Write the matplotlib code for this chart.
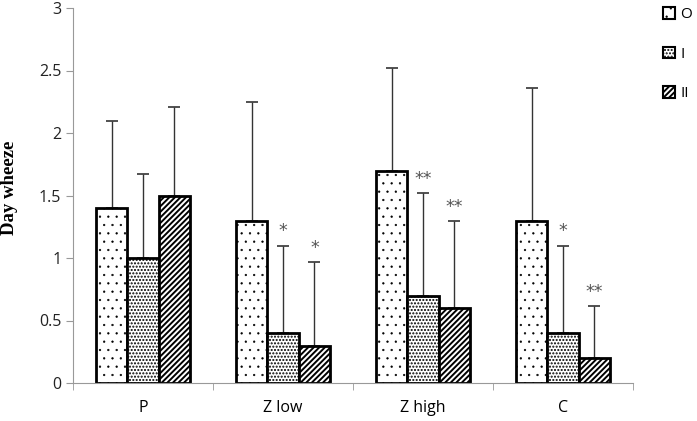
import matplotlib
matplotlib.use("Agg")
import matplotlib.pyplot as plt
import numpy as np
from matplotlib.patches import Patch

categories = ["P", "Z low", "Z high", "C"]
series_names = ["O", "I", "II"]
values_O = [1.4, 1.3, 1.7, 1.3]
values_I = [1.0, 0.4, 0.7, 0.4]
values_II = [1.5, 0.3, 0.6, 0.2]
err_O = [0.70, 0.95, 0.82, 1.06]
err_I = [0.67, 0.70, 0.82, 0.70]
err_II = [0.71, 0.67, 0.70, 0.42]
stars_I = ["", "*", "**", "*"]
stars_II = ["", "*", "**", "**"]
y_ticks = [0, 0.5, 1, 1.5, 2, 2.5, 3]
y_tick_labels = ["0", "0.5", "1", "1.5", "2", "2.5", "3"]

fig = plt.figure(figsize=(6.97, 4.21), dpi=100)
ax = fig.add_axes([73/697, 38/421, (633-73)/697, 375/421])

x = np.arange(len(categories))
w = 0.224
hatches = ['..', '.....', '//////']
hatch_lw = [0.4, 1.0, 1.4]
vals = [values_O, values_I, values_II]
errs = [err_O, err_I, err_II]
for i, (v, e, h) in enumerate(zip(vals, errs, hatches)):
    pos = x + (i - 1) * w
    bars = ax.bar(pos, v, width=w, color='white', edgecolor='black', linewidth=2.0,
                  hatch=h, zorder=2)
    for b in bars:
        if hasattr(b, 'set_hatch_linewidth'):
            b.set_hatch_linewidth(hatch_lw[i])
    ax.errorbar(pos, v, yerr=[np.zeros(len(v)), e], fmt='none', ecolor='#333333',
                elinewidth=1.0, capsize=4.5, capthick=1.2, zorder=1)

for j in range(len(categories)):
    for i, st in ((1, stars_I), (2, stars_II)):
        if st[j]:
            top = vals[i][j] + errs[i][j]
            ax.text(x[j] + (i - 1) * w, top + 0.04, st[j], ha='center', va='bottom',
                    fontsize=12.5, color='#555555', family='DejaVu Sans')

ax.set_xlim(-0.5, 3.5)
ax.set_ylim(0, 3)
ax.set_yticks(y_ticks)
ax.set_yticklabels(y_tick_labels)
ax.set_xticks(x)
ax.set_xticklabels(categories)
ax.set_xticks(np.arange(-0.5, 4, 1), minor=True)
ax.tick_params(axis='x', which='major', length=0, pad=12, labelsize=11.5)
ax.tick_params(axis='x', which='minor', length=5, color='#999999', direction='out')
ax.tick_params(axis='y', length=5, color='#999999', labelsize=11.5, labelcolor='#222222')
for lab in ax.get_xticklabels() + ax.get_yticklabels():
    lab.set_family('Open Sans')
for s in ['top', 'right']:
    ax.spines[s].set_visible(False)
ax.spines['left'].set_color('#999999')
ax.spines['bottom'].set_color('#999999')
ax.spines['bottom'].set_zorder(3)

fig.text(10/697, 1 - 188/421, "Day wheeze", rotation=90, ha='center', va='center',
         family='Liberation Serif', fontweight='bold', fontsize=13.5)

handles = [Patch(facecolor='white', edgecolor='black', hatch=h, linewidth=1.5) for h in hatches]
leg = fig.legend(handles, series_names, loc='upper left', bbox_to_anchor=(663/697, 1 - 7/421),
                 frameon=False, handlelength=0.8, handleheight=0.8, handletextpad=0.35,
                 labelspacing=1.6, borderpad=0, borderaxespad=0,
                 prop={'family': 'Open Sans', 'size': 11})
for p, lw in zip(leg.get_patches(), hatch_lw):
    if hasattr(p, 'set_hatch_linewidth'):
        p.set_hatch_linewidth(lw)

fig.savefig("out.png", dpi=100)
